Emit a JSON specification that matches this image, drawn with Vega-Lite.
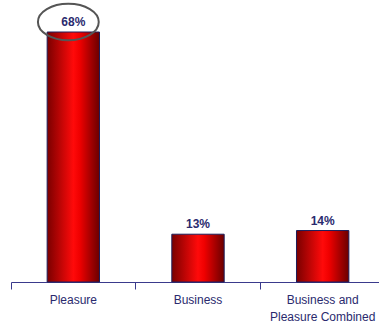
{
  "$schema": "https://vega.github.io/schema/vega-lite/v6.json",
  "autosize": "none",
  "width": 368,
  "height": 250,
  "padding": {"left": 11, "top": 32, "right": 0, "bottom": 46},
  "background": "white",
  "config": {"view": {"stroke": null}, "font": "Liberation Sans"},
  "data": {"values": [
    {"category": "Pleasure", "pct": 68, "label": "68%"},
    {"category": "Business", "pct": 13, "label": "13%"},
    {"category": "Business and|Pleasure Combined", "pct": 14, "label": "14%"}
  ]},
  "encoding": {
    "x": {"field": "category", "type": "nominal", "sort": null,
      "scale": {"range": [0, 374], "padding": 0},
      "axis": {"title": null, "labelAngle": 0, "domainColor": "#3a3a8c", "tickColor": "#3a3a8c", "tickSize": 7, "bandPosition": 0,
        "labelColor": "#2a2a6e", "labelFontSize": 12, "labelPadding": 5, "labelLineHeight": 17,
        "labelExpr": "split(datum.label, '|')"}},
    "y": {"field": "pct", "type": "quantitative", "scale": {"domain": [0, 68]}, "axis": null}
  },
  "layer": [
    {"mark": {"type": "bar", "width": {"band": 0.42}, "stroke": "#1e1e5a", "strokeWidth": 1,
      "fill": {"gradient": "linear", "x1": 0, "x2": 1, "y1": 0, "y2": 0,
        "stops": [{"offset": 0, "color": "#7a0000"}, {"offset": 0.5, "color": "#ff0a0a"}, {"offset": 0.62, "color": "#f00000"}, {"offset": 1, "color": "#6a0000"}]}}},
    {"mark": {"type": "text", "dy": -10, "color": "#2a2a6e", "fontSize": 12, "fontWeight": "bold"},
      "encoding": {"text": {"field": "label"}}},
    {"data": {"values": [{"category": "Pleasure", "pos": 70.7}]},
      "mark": {"type": "point", "shape": "M -1 0 A 1 0.6 0 1 0 1 0 A 1 0.6 0 1 0 -1 0 Z", "size": 3700, "filled": false, "stroke": "#555555", "strokeWidth": 2, "opacity": 1, "xOffset": -5},
      "encoding": {"y": {"field": "pos", "type": "quantitative"}}}
  ]
}
